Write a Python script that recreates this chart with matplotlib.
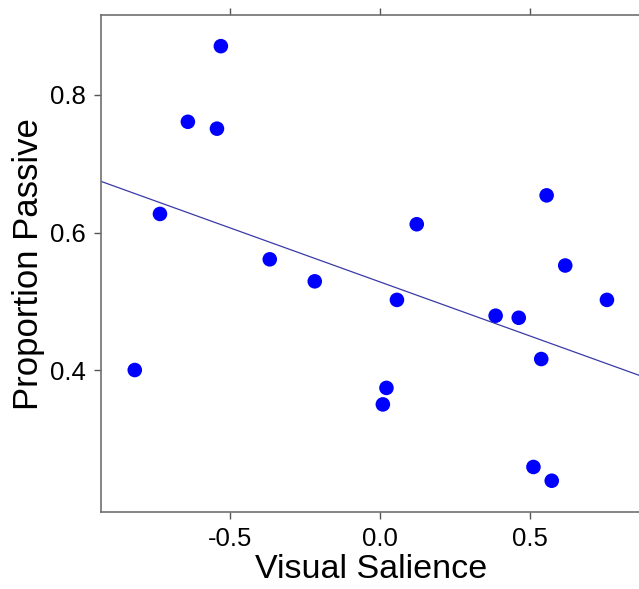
import numpy as np
import matplotlib
matplotlib.use("Agg")
import matplotlib.pyplot as plt

plt.rcParams['font.family'] = ['Liberation Sans', 'DejaVu Sans']

# visual salience score and proportion of passive responses per item
salience = [-0.817, -0.733, -0.640, -0.543, -0.530, -0.367, -0.217, 0.123, 0.057,
            0.022, 0.010, 0.386, 0.463, 0.538, 0.512, 0.573, 0.556, 0.618, 0.757]
passive = [0.400, 0.627, 0.761, 0.751, 0.871, 0.561, 0.529, 0.612, 0.502,
           0.374, 0.350, 0.479, 0.476, 0.416, 0.259, 0.239, 0.654, 0.552, 0.502]

x_ticks = [-0.5, 0.0, 0.5]
y_ticks = [0.4, 0.6, 0.8]

fig = plt.figure(figsize=(6.39, 5.89), dpi=100)
ax = fig.add_axes([0.1588, 0.1307, 0.845, 0.843])

x = np.array(salience)
y = np.array(passive)

ax.scatter(x, y, s=110, color='#0000ff', edgecolors='none', zorder=3)

# least squares fit across the full x range
slope, intercept = np.polyfit(x, y, 1)
xl = np.array([-1.0, 1.0])
ax.plot(xl, intercept + slope * xl, color='#3a3aa8', linewidth=0.9, zorder=2)

ax.set_xlim(-0.928, 0.872)
ax.set_ylim(0.1935, 0.9156)
ax.set_xticks(x_ticks)
ax.set_xticklabels(['-0.5', '0.0', '0.5'])
ax.set_yticks(y_ticks)
ax.set_yticklabels(['0.4', '0.6', '0.8'])

for side in ['left', 'bottom', 'top', 'right']:
    ax.spines[side].set_color('#707070')
    ax.spines[side].set_linewidth(1.2)

ax.tick_params(axis='both', direction='out', length=5, width=1, color='#555555',
               labelsize=18.5, pad=6)
ax.tick_params(axis='x', top=True, labeltop=False)

ax.set_xlabel('Visual Salience', fontsize=24.5, labelpad=2)
ax.set_ylabel('Proportion Passive', fontsize=25, labelpad=4)

fig.savefig('out.png', dpi=100)
